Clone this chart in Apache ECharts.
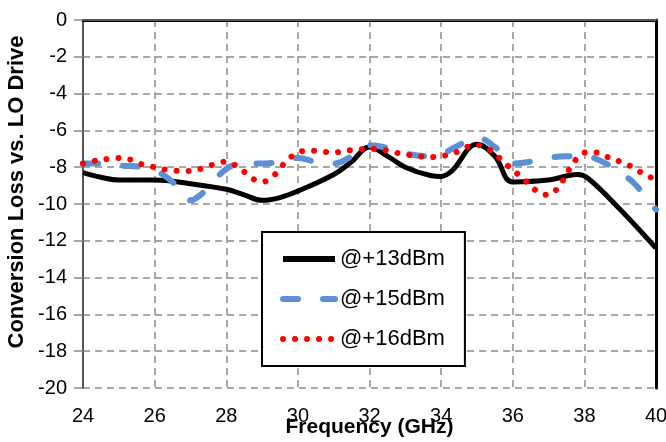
<!DOCTYPE html>
<html lang="en">
<head>
  <meta charset="UTF-8">
  <title>Conversion Loss vs. LO Drive</title>
  <script src="https://cdn.jsdelivr.net/npm/echarts@6/dist/echarts.min.js"></script>
  <style>
    html, body { margin: 0; padding: 0; background: #fff; }
    #chart { width: 666px; height: 442px; }
  </style>
</head>
<body>
  <div id="chart"></div>
  <script>
    // x ticks
    const freqTicks = [24, 26, 28, 30, 32, 34, 36, 38, 40];

    // @+13dBm
    const freq13 = [24, 24.5, 25, 26, 27, 28, 28.5, 29, 29.5, 30, 31, 31.5, 32, 32.5, 33, 33.7, 34, 34.3, 35, 35.5, 36, 37, 37.8, 38.1, 39, 40];
    const loss13 = [-8.3, -8.55, -8.7, -8.7, -8.9, -9.2, -9.5, -9.8, -9.65, -9.3, -8.4, -7.7, -6.9, -7.4, -8.0, -8.45, -8.5, -8.2, -6.75, -7.4, -8.8, -8.7, -8.4, -8.6, -10.3, -12.4];

    // @+15dBm
    const freq15 = [24, 24.5, 25, 25.7, 26, 26.5, 27, 27.4, 28, 28.5, 29, 29.5, 30, 30.5, 31, 31.5, 32, 32.5, 33, 33.6, 34, 34.4, 35, 35.5, 36, 36.5, 37, 37.5, 38, 38.5, 39, 39.4, 40];
    const loss15 = [-7.8, -7.8, -7.9, -8.0, -8.15, -8.8, -9.8, -9.3, -8.1, -7.8, -7.8, -7.7, -7.5, -7.7, -7.8, -7.4, -6.8, -6.95, -7.25, -7.4, -7.3, -6.9, -6.4, -6.9, -7.8, -7.7, -7.5, -7.4, -7.4, -7.7, -8.3, -8.9, -10.3];

    // @+16dBm
    const freq16 = [24, 24.35, 24.7, 25, 25.35, 25.65, 26, 26.35, 26.7, 27, 27.35, 27.65, 28, 28.3, 28.6, 28.85, 29, 29.3, 29.5, 29.75, 30, 30.35, 30.65, 31, 31.35, 31.65, 32, 32.35, 32.7, 33, 33.35, 33.7, 34, 34.35, 34.65, 35, 35.35, 35.6, 35.85, 36, 36.25, 36.5, 36.75, 37, 37.25, 37.45, 37.6, 37.8, 38, 38.35, 38.65, 39, 39.3, 39.6, 39.9, 40];
    const loss16 = [-7.8, -7.65, -7.55, -7.5, -7.6, -7.85, -8.0, -8.15, -8.2, -8.2, -8.05, -7.85, -7.7, -7.95, -8.4, -8.75, -8.8, -8.5, -8.05, -7.55, -7.2, -7.1, -7.15, -7.2, -7.1, -7.05, -7.0, -7.05, -7.2, -7.3, -7.4, -7.45, -7.4, -7.25, -6.95, -6.8, -7.05, -7.45, -7.9, -8.15, -8.55, -9.0, -9.4, -9.5, -9.15, -8.55, -8.05, -7.5, -7.2, -7.2, -7.45, -7.7, -7.95, -8.3, -8.6, -8.7];

    const font = 'Liberation Sans, Arial, sans-serif';
    const pairs = (xs, ys) => xs.map((x, i) => [x, ys[i]]);

    const chart = echarts.init(document.getElementById('chart'));

    const gridLine = { show: true, lineStyle: { color: '#8c8c8c', width: 1.5, type: [7, 5] } };

    chart.setOption({
      animation: false,
      backgroundColor: '#fff',
      // fixed plot box; don't let v6 shrink it to fit the axis name
      grid: { left: 83, right: 10, top: 20, bottom: 54, outerBoundsMode: 'none' },
      legend: {
        orient: 'vertical',
        left: 262,
        top: 232,
        padding: [16, 20, 16, 18],
        itemWidth: 52,
        itemHeight: 22,
        itemGap: 18,
        backgroundColor: '#fff',
        borderColor: '#000',
        borderWidth: 2,
        textStyle: { fontSize: 22, color: '#000', fontFamily: font },
        // hide the symbol in the icon, keep only the line
        data: [
          { name: '@+13dBm', itemStyle: { opacity: 0 }, lineStyle: { width: 6 } },
          { name: '@+15dBm', itemStyle: { opacity: 0 }, lineStyle: { width: 6 } },
          { name: '@+16dBm', itemStyle: { opacity: 0 }, lineStyle: { width: 6 } }
        ]
      },
      graphic: [{
        type: 'text',
        x: 17,
        y: 192,
        rotation: Math.PI / 2,
        style: {
          text: 'Conversion Loss vs. LO Drive',
          font: 'bold 22px ' + font,
          fill: '#000',
          textAlign: 'center',
          textVerticalAlign: 'middle'
        }
      }],
      xAxis: [{
        type: 'value',
        min: 24, max: 40, interval: 2,
        name: 'Frequency (GHz)',
        nameLocation: 'middle',
        nameGap: 29,
        nameMoveOverlap: false,
        nameTextStyle: { fontSize: 21, fontWeight: 'bold', color: '#000', fontFamily: font },
        axisLine: { show: true, lineStyle: { color: '#000', width: 3 } },
        axisTick: { show: false },
        axisLabel: {
          margin: 18, fontSize: 20, color: '#000', fontFamily: font,
          formatter: v => freqTicks.includes(v) ? String(v) : ''
        },
        splitLine: gridLine
      }, {
        type: 'value',
        position: 'top',
        min: 24, max: 40, interval: 2,
        axisLine: { show: true, onZero: false, lineStyle: { color: '#555', width: 2 } },
        axisTick: { show: false },
        axisLabel: { show: false },
        splitLine: { show: false }
      }],
      yAxis: [{
        type: 'value',
        min: -20, max: 0, interval: 2,
        axisLine: { show: true, onZero: false, lineStyle: { color: '#555', width: 2 } },
        axisTick: { show: true, length: 9, lineStyle: { color: '#888', width: 1.5 } },
        axisLabel: { margin: 16, fontSize: 20, color: '#000', fontFamily: font },
        splitLine: gridLine
      }, {
        type: 'value',
        position: 'right',
        min: -20, max: 0, interval: 2,
        axisLine: { show: true, onZero: false, lineStyle: { color: '#000', width: 3 } },
        axisTick: { show: false },
        axisLabel: { show: false },
        splitLine: { show: false }
      }],
      series: [{
        name: '@+13dBm',
        type: 'line',
        symbol: 'none',
        smooth: 0.4,
        data: pairs(freq13, loss13),
        lineStyle: { color: '#000', width: 5 },
        itemStyle: { color: '#000' }
      }, {
        name: '@+15dBm',
        type: 'line',
        symbol: 'none',
        smooth: 0.4,
        data: pairs(freq15, loss15),
        lineStyle: { color: '#5b8fd6', width: 6, type: [15, 25], cap: 'round' },
        itemStyle: { color: '#5b8fd6' }
      }, {
        name: '@+16dBm',
        type: 'line',
        symbol: 'none',
        smooth: 0.4,
        data: pairs(freq16, loss16),
        lineStyle: { color: '#ff0000', width: 6, type: [0.01, 12], cap: 'round' },
        itemStyle: { color: '#ff0000' }
      }]
    });
  </script>
</body>
</html>
